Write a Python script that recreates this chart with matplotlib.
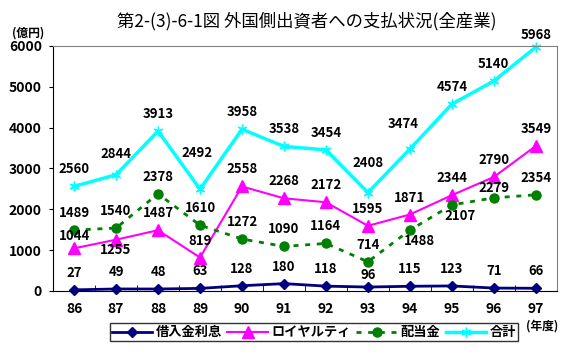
import matplotlib
matplotlib.use('Agg')
import matplotlib.pyplot as plt

plt.rcParams['font.family'] = ['Noto Sans CJK JP', 'DejaVu Sans']

# --- データ ---
years = ['86', '87', '88', '89', '90', '91', '92', '93', '94', '95', '96', '97']
interest = [27, 49, 48, 63, 128, 180, 118, 96, 115, 123, 71, 66]
royalty = [1044, 1255, 1487, 819, 2558, 2268, 2172, 1595, 1871, 2344, 2790, 3549]
dividend = [1489, 1540, 2378, 1610, 1272, 1090, 1164, 714, 1488, 2107, 2279, 2354]
total = [2560, 2844, 3913, 2492, 3958, 3538, 3454, 2408, 3474, 4574, 5140, 5968]

# ラベル位置の例外 (ピクセル単位, 標準は点の17px上)
label_shift = {
    ('total', 1): (0, 21), ('total', 3): (-3, 36), ('total', 7): (0, 30),
    ('total', 8): (-7, 25), ('total', 11): (0, 12),
    ('royalty', 0): (0, 12), ('royalty', 1): (0, -10),
    ('dividend', 8): (10, -11), ('dividend', 9): (8, -11), ('dividend', 10): (0, 10),
    ('interest', 7): (0, 12),
}

fig = plt.figure(figsize=(5.77, 3.61), dpi=100)
ax = fig.add_axes([0.092, 0.194, 0.873, 0.679])

x = list(range(len(years)))

series = [
    ('interest', interest, '借入金利息', dict(color='#000080', lw=2, ls='-', marker='D', ms=5.5)),
    ('royalty', royalty, 'ロイヤルティ', dict(color='#ff00ff', lw=1.5, ls='-', marker='^', ms=9)),
    ('dividend', dividend, '配当金', dict(color='#008000', lw=2, ls=(0, (1.8, 2.4)), marker='o', ms=6.5)),
    ('total', total, '合計', dict(color='#00ffff', lw=2.5, ls='-', marker=(6, 2, 0), ms=7, mew=1)),
]

for key, vals, name, style in series:
    ax.plot(x, vals, label=name, clip_on=False, **style)
    for i, v in enumerate(vals):
        dx, dy = label_shift.get((key, i), (0, 17))
        ax.annotate(str(v), (i, v), xytext=(dx, dy), textcoords='offset pixels',
                    ha='center', va='center', fontsize=9.5, fontweight='bold')

ax.set_xlim(-0.5, len(years) - 0.5)
ax.set_ylim(0, 6000)
ax.set_yticks(range(0, 6001, 1000))
ax.set_xticks(x)
ax.set_xticklabels(years)
ax.set_xticks([i + 0.5 for i in x[:-1]], minor=True)
ax.tick_params(axis='x', which='major', length=0, pad=8, labelsize=10)
ax.tick_params(axis='x', which='minor', length=4, direction='in')
ax.tick_params(axis='y', length=3, direction='out', pad=5, labelsize=10)
for lab in ax.get_xticklabels() + ax.get_yticklabels():
    lab.set_fontweight('bold')

ax.spines['top'].set_color('#808080')
ax.spines['right'].set_color('#808080')

fig.text(0.532, 0.94, '第2-(3)-6-1図 外国側出資者への支払状況(全産業)',
         ha='center', va='center', fontsize=12.5)
fig.text(0.02, 0.908, '(億円)', ha='left', va='center', fontsize=8.5, fontweight='bold')
fig.text(0.94, 0.098, '(年度)', ha='center', va='center', fontsize=8.5, fontweight='bold')

leg = ax.legend(loc='center', bbox_to_anchor=(0.544, 0.08), bbox_transform=fig.transFigure,
                ncol=4, fontsize=9.5, frameon=True, fancybox=False, edgecolor='black',
                handlelength=3.1, columnspacing=0.4, handletextpad=0.25, borderpad=0.15,
                borderaxespad=0)
leg.get_frame().set_linewidth(1)
for t in leg.get_texts():
    t.set_fontweight('bold')

fig.savefig('out.png', dpi=100)
